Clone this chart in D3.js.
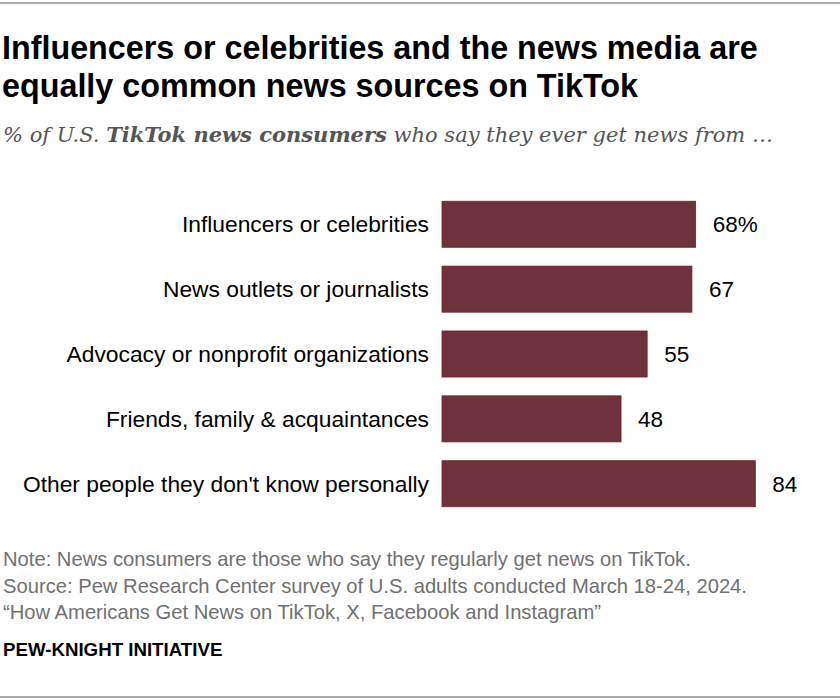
<!DOCTYPE html>
<html>
<head>
<meta charset="utf-8">
<script src="https://cdn.jsdelivr.net/npm/d3@7"></script>
<style>
  body { margin: 0; background: #fff; }
  svg text { font-family: "Liberation Sans", Arial, sans-serif; }
  .title { font-weight: bold; font-size: 32.3px; fill: #000; }
  .subtitle { font-family: "DejaVu Serif", Georgia, serif; font-style: italic; font-size: 21px; fill: #555; }
  .cat { font-size: 22.8px; fill: #000; }
  .val { font-size: 22.5px; fill: #000; }
  .note { font-size: 20.2px; fill: #707070; }
  .brand { font-weight: bold; font-size: 18.7px; fill: #000; }
</style>
</head>
<body>
<div id="chart"></div>
<script>
const categories = [
  'Influencers or celebrities',
  'News outlets or journalists',
  'Advocacy or nonprofit organizations',
  'Friends, family & acquaintances',
  "Other people they don't know personally"
];
const values = [68, 67, 55, 48, 84];
const valueLabels = ['68%', '67', '55', '48', '84'];

const titleLines = [
  'Influencers or celebrities and the news media are',
  'equally common news sources on TikTok'
];
const notes = [
  'Note: News consumers are those who say they regularly get news on TikTok.',
  'Source: Pew Research Center survey of U.S. adults conducted March 18-24, 2024.',
  '\u201cHow Americans Get News on TikTok, X, Facebook and Instagram\u201d'
];

const W = 840, H = 700;
const margin = {top: 198, left: 442, right: 25, bottom: 190};

const svg = d3.select('#chart').append('svg')
  .attr('width', W)
  .attr('height', H);

// rules top and bottom
svg.append('line').attr('x1', 0).attr('x2', W).attr('y1', 3).attr('y2', 3)
  .attr('stroke', '#aaa').attr('stroke-width', 2);
svg.append('line').attr('x1', 0).attr('x2', W).attr('y1', 697).attr('y2', 697)
  .attr('stroke', '#aaa').attr('stroke-width', 2);

svg.selectAll('.title')
  .data(titleLines)
  .enter().append('text')
    .attr('class', 'title')
    .attr('x', 2)
    .attr('y', (d, i) => 59 + i * 37.5)
    .text(d => d);

const sub = svg.append('text')
  .attr('class', 'subtitle')
  .attr('x', 3)
  .attr('y', 142);
sub.append('tspan').text('% of U.S. ');
sub.append('tspan').attr('font-weight', 'bold').text('TikTok news consumers');
sub.append('tspan').text(' who say they ever get news from \u2026');

const x = d3.scaleLinear()
  .domain([0, 100])
  .range([margin.left, W - margin.right]);

const y = d3.scaleBand()
  .domain(categories)
  .range([margin.top, H - margin.bottom])
  .paddingInner(0.29)
  .paddingOuter(0.05);

const rows = svg.append('g')
  .selectAll('.row')
  .data(categories)
  .enter().append('g')
    .attr('class', 'row');

rows.append('rect')
  .attr('x', x(0))
  .attr('y', d => y(d))
  .attr('width', (d, i) => x(values[i]) - x(0))
  .attr('height', y.bandwidth())
  .attr('fill', '#6e323c')
  .attr('stroke', '#7a1c2d')
  .attr('stroke-width', 0.8);

rows.append('text')
  .attr('class', 'cat')
  .attr('x', x(0) - 13)
  .attr('y', d => y(d) + y.bandwidth() / 2)
  .attr('dy', '0.36em')
  .attr('text-anchor', 'end')
  .text(d => d);

rows.append('text')
  .attr('class', 'val')
  .attr('x', (d, i) => x(values[i]) + 17)
  .attr('y', d => y(d) + y.bandwidth() / 2)
  .attr('dy', '0.36em')
  .text((d, i) => valueLabels[i]);

svg.selectAll('.note')
  .data(notes)
  .enter().append('text')
    .attr('class', 'note')
    .attr('x', 3)
    .attr('y', (d, i) => 566 + i * 26.5)
    .text(d => d);

svg.append('text')
  .attr('class', 'brand')
  .attr('x', 3)
  .attr('y', 656)
  .text('PEW-KNIGHT INITIATIVE');
</script>
</body>
</html>
